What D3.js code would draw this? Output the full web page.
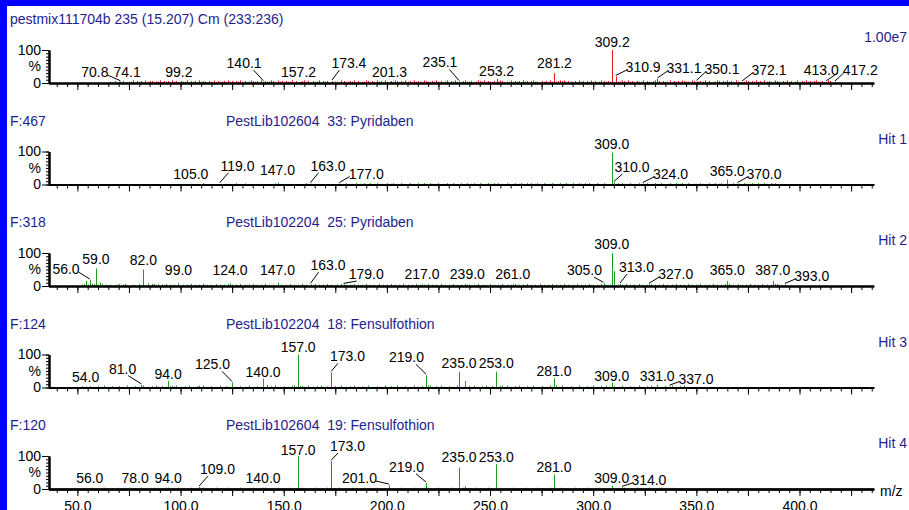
<!DOCTYPE html>
<html>
<head>
<meta charset="utf-8">
<script src="https://cdn.jsdelivr.net/npm/d3@7"></script>
<style>
  body { margin: 0; background: #fff; }
  svg { display: block; font-family: "Liberation Sans", Arial, sans-serif; }
</style>
</head>
<body>
<svg id="chart" width="909" height="510"></svg>
<script>
// m/z range of the shared x axis and the labelled ticks
const mzRange = [36, 436];
const mzLabelTicks = [50, 100, 150, 200, 250, 300, 350, 400];

// header texts
const scanTitle = "pestmix111704b 235 (15.207) Cm (233:236)";
const scanMaxIntensity = "1.00e7";
const hitFits = ["F:467", "F:318", "F:124", "F:120"];
const hitNames = [
  "PestLib102604  33: Pyridaben",
  "PestLib102204  25: Pyridaben",
  "PestLib102204  18: Fensulfothion",
  "PestLib102604  19: Fensulfothion"
];
const hitTags = ["Hit 1", "Hit 2", "Hit 3", "Hit 4"];

// main peaks [m/z, % intensity]
const peaksScan = [[70.8,4],[74.1,3],[99.2,3],[140.1,4],[157.2,3],[173.4,6],[201.3,4],[235.1,4],
  [253.2,12],[281.2,30],[282.9,6],[309.2,100],[310.9,20],[331.1,12],[350.1,5],[372.1,3],[413.0,4],[417.2,3]];
const peaksHit1 = [[105,2],[119,2],[131,3],[147,6],[163,3],[177,3],[309,97],[310,6],[324,3],[365,15],[370,3]];
const peaksHit2 = [[54,15],[56,18],[57,6],[59,53],[61,10],[82,50],[84,8],[87,6],[89,5],[99,8],[124,8],
  [147,10],[163,5],[179,5],[217,5],[239,4],[261,5],[305,8],[309,100],[310,45],[313,6],[327,5],
  [365,15],[366,6],[387,15],[389,6],[393,5]];
const peaksHit3 = [[54,3],[81,8],[94,20],[96,5],[109,6],[125,15],[140,27],[142,8],[155,6],[157,100],
  [159,5],[173,46],[219,37],[221,6],[235,48],[238,20],[240,5],[253,48],[256,6],[281,28],[282,6],
  [309,15],[331,8],[335,5],[337,4]];
const peaksHit4 = [[56,3],[78,3],[94,4],[109,6],[140,4],[157,100],[173,84],[201,12],[219,18],[235,65],
  [238,8],[253,75],[281,44],[309,10],[314,5]];

// low-level background: one digit per unit m/z from the start value, each digit = 2 % intensity
const noiseUnit = 2;
const noiseStarts = [66, 100, 52, 50, 52];
const noiseScan = "2131223132 2413231423 3122413231 4231322413 2314232132 4132231423 1324231243 2314132243 1423132241 3213423132 2413231432 2143123241 3122431324 2314213243 1324231423 2143213242 3124132423 1342231243 2413213424 3122413231 4231342213 2314232143 4132231423 1324231243 2314132243 1423132241 3213423132 2413231432 2143123241 3122431324 2314213243 1324231423 2143213242 3124132423 1342231243";
const noiseHit1 = "0000100000 0200001000 0010000200 0001000000 1000002000 0010000000 0200010000 0001000100 2001020102 1020120101 2012010210 1201020121 0210120102 1021012012 0121021012 1021201021 0120121021 2012102101 2101201210 2012102120 1021021012 0120210120 1021012010 2102101201 2012012101 1021012012 0120121021 2102101201 2012102120 10";
const noiseHit2 = "2302103322 3121201230 2310121030 2120301202 1302120312 0213021203 1202130212 0312021302 1203120213 0212031202 1302120312 0213021203 1201203120 2130212031 2021302120 3120213021 2031202130 2120312021 3021203120 2130212031 2021302120 3120213021 2031202130 2120312021 3021203120 2130212031 2021302120 3120213021 2031202130 2120312021 3021203120 2130212031 2021302120 3120213021";
const noiseHit3 = "1020102010 2103010201 2010301020 1030102031 0201020130 1020301021 0301020103 1021030102 0103010201 3010203010 2010301020 1030102031 0201020130 1020301021 0301020103 1021030102 0103010201 3010203010 2010301020 1030102031 0201020130 1020301021 0301020103 1021030102 0103010201 3010203010 2010301020 1030102031 0201020130 102030";
const noiseHit4 = "0101020101 0201010201 0102010102 0101020101 0201010201 0102010102 0101020101 0201010201 0102010102 0101020101 0201010201 0102010102 0101020101 0201010201 0102010102 0101020101 0201010201 0102010102 0101020101 0201010201 0102010102 0101020101 0201010201 0102010102 0101020101 0201010201 0102010102 0101020101 0201010201 0";

// peak annotations [peak m/z, text centre m/z, text baseline %]
const labelsScan = [[70.8,58.5,18],[74.1,74.1,18],[99.2,99.2,18],[140.1,130.8,45],[157.2,157.2,18],
  [173.4,181.6,45],[201.3,201.3,18],[235.1,225.7,47],[253.2,253.2,22],[281.2,281.2,45],[309.2,309.2,109],
  [310.9,324.2,33],[331.1,344,30],[350.1,362.4,27],[372.1,385.2,24],[413.0,410.5,24],[417.2,429.4,24]];
const labelsHit1 = [[105,105,18],[119,127.6,42],[147,147,30],[163,171.5,42],[177,190,18],[309,309,109],
  [310,318.8,38],[324,337.5,17],[365,365,26],[370,382.8,17]];
const labelsHit2 = [[56,44.5,36],[59,59,67],[82,82,64],[99,99,33],[124,124,33],[147,147,33],[163,171.5,48],
  [179,190,21],[217,217,21],[239,239,21],[261,261,21],[305,295.8,33],[309,309,112],[313,321,42],
  [327,340,21],[365,365,33],[387,387,33],[393,405.9,15]];
const labelsHit3 = [[54,54,18],[81,71.9,42],[94,94,27],[125,115.5,55],[140,140,33],[157,157,109],
  [173,180.9,79],[219,209.5,76],[235,235,58],[253,253,58],[281,281,36],[309,309,21],[331,331,21],[337,349.8,12]];
const labelsHit4 = [[56,56,18],[78,78,18],[94,94,18],[109,117.9,45],[140,140,18],[157,157,103],
  [173,180.9,115],[201,186.7,18],[219,209.5,52],[235,235,82],[253,253,82],[281,281,52],[309,309,18],[314,327,12]];

const RED = "#f01a1a", GREEN = "#1f9e1f", NAVY = "#1e1e8e";

function parseNoise(str, start) {
  return str.replace(/ /g, "").split("").map((c, i) => [start + i, +c * noiseUnit]).filter(d => d[1] > 0);
}

const panels = [
  { peaks: peaksScan, noise: parseNoise(noiseScan, noiseStarts[0]), labels: labelsScan, color: RED,
    left: scanTitle, mid: null, right: scanMaxIntensity },
  ...[peaksHit1, peaksHit2, peaksHit3, peaksHit4].map((p, i) => ({
    peaks: p,
    noise: parseNoise([noiseHit1, noiseHit2, noiseHit3, noiseHit4][i], noiseStarts[i + 1]),
    labels: [labelsHit1, labelsHit2, labelsHit3, labelsHit4][i],
    color: GREEN, left: hitFits[i], mid: hitNames[i], right: hitTags[i]
  }))
];

const svg = d3.select("#chart");
svg.append("rect").attr("width", 909).attr("height", 510).attr("fill", "#fff");
svg.append("rect").attr("width", 909).attr("height", 6).attr("fill", "#0000ff");
svg.append("rect").attr("width", 7).attr("height", 510).attr("fill", "#0000ff");

const x = d3.scaleLinear().domain(mzRange).range([48.5, 873.8]);
const px = v => Math.round(x(v)) + 0.5;

panels.forEach((p, i) => {
  const axisY = 83 + i * 101.5;
  const y = d3.scaleLinear().domain([0, 100]).range([axisY, axisY - 33]);
  const g = svg.append("g");

  // header texts
  g.append("text").attr("x", 10).attr("y", axisY - 59).attr("fill", NAVY)
    .style("font-size", "14px").text(p.left);
  if (p.mid) g.append("text").attr("x", 226).attr("y", axisY - 59).attr("fill", NAVY)
    .style("font-size", "14px").style("white-space", "pre").text(p.mid);
  g.append("text").attr("x", 907).attr("y", axisY - 41).attr("text-anchor", "end")
    .attr("fill", NAVY).style("font-size", "14px").text(p.right);

  // spectrum lines
  const all = p.noise.filter(n => !p.peaks.some(k => Math.abs(k[0] - n[0]) < 0.6)).concat(p.peaks);
  g.append("g").selectAll("line").data(all).join("line")
    .attr("x1", d => px(d[0])).attr("x2", d => px(d[0]))
    .attr("y1", axisY).attr("y2", d => y(d[1]))
    .attr("stroke", p.color).attr("stroke-width", 1);

  // x axis: minor ticks, major ticks
  const xa = g.append("g").attr("transform", `translate(0,${axisY})`);
  xa.append("g").call(d3.axisBottom(x).tickValues(d3.range(40, 436, 5)).tickSize(4).tickSizeOuter(0).tickFormat(""));
  xa.append("g").call(d3.axisBottom(x).tickValues(d3.range(50, 436, 25)).tickSize(7).tickSizeOuter(0).tickFormat(""));
  if (i === panels.length - 1) {
    xa.append("g").call(d3.axisBottom(x).tickValues(mzLabelTicks).tickSize(0).tickPadding(12)
      .tickFormat(d => d.toFixed(1)))
      .call(a => a.selectAll("text").style("font-size", "14px").attr("fill", "#000"));
    g.append("text").attr("x", 880).attr("y", axisY + 7).style("font-size", "14px").text("m/z");
  }
  xa.selectAll(".domain").attr("stroke", "#000").attr("stroke-width", 2);
  xa.selectAll(".tick line").attr("stroke", "#000");

  // y axis
  const ya = g.append("g").attr("transform", "translate(49,0)");
  ya.append("g").call(d3.axisLeft(y).tickValues(d3.range(0, 101, 10)).tickSize(3).tickSizeOuter(0).tickFormat(""));
  ya.append("g").call(d3.axisLeft(y).tickValues([0, 100]).tickSize(7).tickSizeOuter(0).tickPadding(1))
    .call(a => a.selectAll("text").style("font-size", "14px").attr("fill", "#000"));
  ya.append("text").attr("x", -8).attr("y", y(50)).attr("dy", "0.35em").attr("text-anchor", "end")
    .style("font-size", "14px").text("%");
  ya.selectAll(".domain").attr("stroke", "#000").attr("stroke-width", 2);
  ya.selectAll(".tick line").attr("stroke", "#000");

  // annotations
  const ann = g.append("g").style("font-size", "14px");
  p.labels.forEach(([mz, tmz, tpct]) => {
    const peak = p.peaks.find(k => Math.abs(k[0] - mz) < 0.05);
    const peakX = x(mz), peakY = y(peak[1]);
    const tx = x(tmz), ty = y(tpct);
    const t = ann.append("text").attr("x", tx).attr("y", ty).attr("text-anchor", "middle")
      .attr("fill", "#000").text(mz.toFixed(1));
    const w = t.node().getComputedTextLength();
    if (Math.abs(tx - peakX) > 4) {
      const right = tx > peakX;
      const edge = right ? tx - w / 2 : tx + w / 2;
      let sx, sy;
      if (Math.abs(edge - peakX) < 6) {
        sx = edge + (right ? 8 : -8); sy = ty + 2;
      } else {
        sx = edge + (right ? 1 : -1); sy = ty - 2;
      }
      ann.append("line").attr("x1", sx).attr("y1", sy).attr("x2", peakX).attr("y2", peakY - 1)
        .attr("stroke", "#000").attr("stroke-width", 1);
    }
  });
});
</script>
</body>
</html>
